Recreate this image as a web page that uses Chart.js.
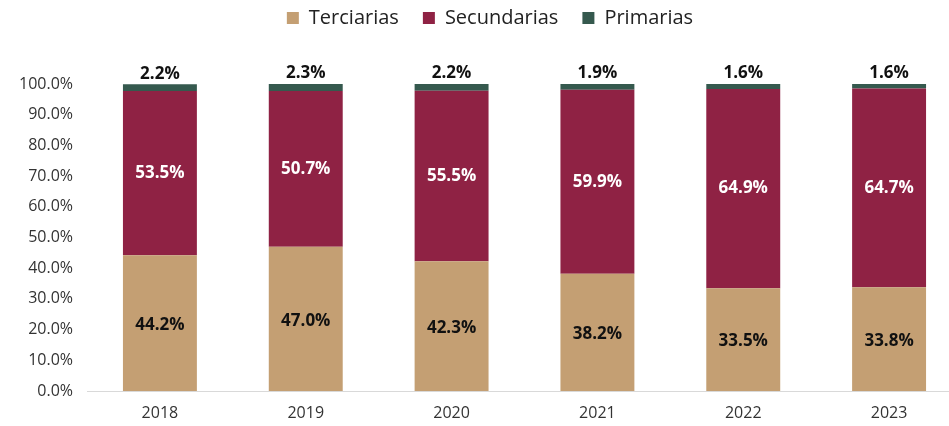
<!DOCTYPE html>
<html>
<head>
<meta charset="utf-8">
<script src="https://cdn.jsdelivr.net/npm/chart.js@4/dist/chart.umd.min.js"></script>
<style>
  html, body { margin: 0; padding: 0; background: #fff; overflow: hidden; }
  #wrap { width: 962px; height: 426px; position: relative; }
</style>
</head>
<body>
<div id="wrap"><canvas id="c" width="962" height="426"></canvas></div>
<script>
const categories = ['2018', '2019', '2020', '2021', '2022', '2023'];
const terciarias = [44.2, 47.0, 42.3, 38.2, 33.5, 33.8];
const secundarias = [53.5, 50.7, 55.5, 59.9, 64.9, 64.7];
const primarias = [2.2, 2.3, 2.2, 1.9, 1.6, 1.6];
const yTicks = [0, 10, 20, 30, 40, 50, 60, 70, 80, 90, 100];

const FONT = '"Open Sans", "DejaVu Sans", sans-serif';
const LEGEND_TOP = -16;
const CHART_TOP = 84;
const LEGEND_SHIFT = 9;

const legendFitPlugin = {
  id: 'legendFit',
  afterInit(chart) {
    const lg = chart.legend;
    if (!lg) return;
    const origFit = lg.fit;
    lg.fit = function () {
      origFit.call(this);
      this.height = CHART_TOP - LEGEND_TOP;
    };
    const origDraw = lg.draw;
    lg.draw = function () {
      const ctx = this.ctx;
      ctx.save();
      ctx.translate(LEGEND_SHIFT, 0);
      origDraw.call(this);
      ctx.restore();
    };
  }
};

const labelPlugin = {
  id: 'segLabels',
  afterDatasetsDraw(chart) {
    const ctx = chart.ctx;
    ctx.save();
    ctx.font = 'bold 17px ' + FONT;
    ctx.textAlign = 'center';
    chart.data.datasets.forEach((ds, di) => {
      const meta = chart.getDatasetMeta(di);
      meta.data.forEach((bar, i) => {
        const v = ds.data[i];
        const txt = v.toFixed(1) + '%';
        if (di === 2) {
          ctx.fillStyle = '#111';
          ctx.textBaseline = 'bottom';
          ctx.fillText(txt, bar.x, bar.y - 2);
        } else {
          ctx.fillStyle = di === 0 ? '#111' : '#fff';
          ctx.textBaseline = 'middle';
          ctx.fillText(txt, bar.x, (bar.y + bar.base) / 2 + (di === 0 ? 2 : 0));
        }
      });
    });
    ctx.restore();
  }
};

new Chart(document.getElementById('c'), {
  type: 'bar',
  data: {
    labels: categories,
    datasets: [
      { label: 'Terciarias', data: terciarias, backgroundColor: '#C49F73' },
      { label: 'Secundarias', data: secundarias, backgroundColor: '#8F2244' },
      { label: 'Primarias', data: primarias, backgroundColor: '#35594E' }
    ]
  },
  options: {
    responsive: false,
    animation: false,
    layout: { padding: { top: LEGEND_TOP, left: 0, right: 0, bottom: 0 } },
    datasets: { bar: { barPercentage: 0.507, categoryPercentage: 1.0, borderWidth: 0 } },
    plugins: {
      legend: {
        position: 'top',
        labels: {
          font: { family: FONT, size: 20 },
          color: '#222',
          boxWidth: 12,
          boxHeight: 12,
          padding: 24
        }
      },
      tooltip: { enabled: false }
    },
    scales: {
      x: {
        stacked: true,
        grid: { display: false, drawTicks: false },
        border: { display: true, color: '#d9d9d9', width: 1 },
        ticks: { font: { family: FONT, size: 16 }, color: '#333', padding: 13 },
        afterFit(s) { s.height = 35; }
      },
      y: {
        stacked: true,
        min: 0,
        max: 100,
        afterBuildTicks(s) { s.ticks = yTicks.map(v => ({ value: v })); },
        grid: { display: false, drawTicks: false },
        border: { display: false },
        ticks: {
          font: { family: FONT, size: 16 },
          color: '#333',
          padding: 14,
          callback: v => v.toFixed(1) + '%'
        },
        afterFit(s) { s.width = 87; }
      }
    }
  },
  plugins: [legendFitPlugin, labelPlugin]
});
</script>
</body>
</html>
